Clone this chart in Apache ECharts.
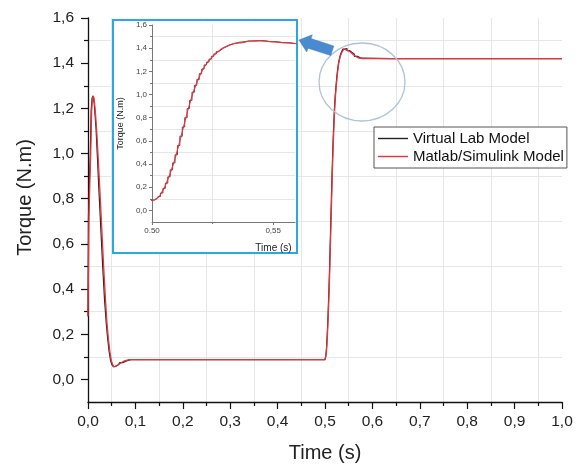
<!DOCTYPE html>
<html><head><meta charset="utf-8">
<script src="https://cdn.jsdelivr.net/npm/echarts@6/dist/echarts.min.js"></script>
<style>html,body{margin:0;padding:0;background:#fff}#c{width:585px;height:464px}</style>
</head><body><div id="c"></div>
<script>
// ---- data ----
const timeS = [0,0.002,0.004,0.0056,0.0077,0.0095,0.011,0.0125,0.014,0.016,0.018,0.021,0.025,0.029,0.033,0.037,0.040,0.043,0.046,0.049,0.052,0.055,0.059,0.064,0.070,0.077,0.085,0.095,0.2,0.3,0.4,0.5,0.501,0.503,0.505,0.507,0.509,0.511,0.513,0.515,0.517,0.519,0.521,0.523,0.526,0.529,0.532,0.536,0.540,0.544,0.549,0.554,0.559,0.565,0.572,0.58,0.7,0.8,0.9,1.0];
const matlabTorque = [0.28,0.72,0.88,0.99,1.19,1.245,1.255,1.245,1.22,1.17,1.11,1.00,0.84,0.67,0.50,0.35,0.25,0.18,0.125,0.085,0.065,0.056,0.058,0.065,0.074,0.082,0.087,0.088,0.088,0.088,0.088,0.088,0.09,0.12,0.19,0.29,0.41,0.56,0.72,0.88,1.02,1.13,1.22,1.28,1.35,1.40,1.43,1.45,1.462,1.465,1.456,1.448,1.44,1.43,1.422,1.42,1.42,1.42,1.42,1.42];

// Virtual Lab model: sampled (staircase) output, 1 ms steps during the 0.5 s transient
const virtualTime = [0,0.002,0.004,0.0056,0.0077,0.0095,0.011,0.0125,0.014,0.016,0.018,0.021,0.025,0.029,0.033,0.037,0.040,0.043,0.046,0.049,0.052,0.055,0.059,0.064,0.070,0.077,0.085,0.095,0.2,0.3,0.4,
  0.500,0.501,0.502,0.503,0.504,0.505,0.506,0.507,0.508,0.509,0.510,0.511,0.512,0.513,0.514,0.515,0.516,0.517,0.518,0.519,0.520,0.521,0.522,0.523,0.524,0.525,0.526,0.527,0.528,0.529,0.530,0.531,0.532,0.533,0.534,0.535,
  0.540,0.544,0.549,0.554,0.559,0.565,0.572,0.58,0.7,0.8,0.9,1.0];
const virtualLabTorque = [0.28,0.72,0.88,0.99,1.19,1.245,1.255,1.245,1.22,1.17,1.11,1.00,0.84,0.67,0.50,0.35,0.25,0.18,0.125,0.085,0.065,0.056,0.058,0.065,0.074,0.082,0.087,0.088,0.088,0.088,0.088,
  0.088,0.09,0.10,0.12,0.15,0.19,0.235,0.29,0.35,0.41,0.48,0.56,0.64,0.72,0.80,0.88,0.95,1.02,1.08,1.13,1.18,1.22,1.255,1.28,1.305,1.33,1.35,1.37,1.385,1.40,1.41,1.42,1.43,1.437,1.443,1.447,
  1.462,1.465,1.456,1.448,1.44,1.43,1.422,1.42,1.42,1.42,1.42,1.42];

const yMajorTicks = [0,0.2,0.4,0.6,0.8,1.0,1.2,1.4,1.6];
const yMinorTicks = [0.1,0.3,0.5,0.7,0.9,1.1,1.3,1.5];
const insetXTicks = [0.50,0.55];
const insetXLabels = ['0.50','0,55'];
const insetXMinorTicks = [0.525];

const seriesNames = ['Virtual Lab Model','Matlab/Simulink Model'];

// ---- build ----
const pairs = (ts, vs) => ts.map((t,i)=>[t, vs[i]]);
const comma1 = v => v.toFixed(1).replace('.', ',');
const FONT = 'Liberation Sans, Arial, sans-serif';
const RED = '#e8323c';
const BLACK = '#222';

const chart = echarts.init(document.getElementById('c'), null, {renderer:'canvas'});

const option = {
  animation: false,
  backgroundColor: '#fff',
  textStyle: {fontFamily: FONT},
  grid: [
    {left: 88, top: 18, width: 474, height: 384, containLabel:false, outerBoundsMode:'none'},
    {left: 152, top: 25, width: 143, height: 197, z: 6, containLabel:false, outerBoundsMode:'none'}
  ],
  xAxis: [
    { type:'value', gridIndex:0, min:0, max:1, interval:0.1, position:'bottom',
      axisLine:{show:true, onZero:false, lineStyle:{color:'#111', width:1.3}},
      axisTick:{show:true, length:7, lineStyle:{color:'#111', width:1.2}},
      minorTick:{show:true, splitNumber:2, length:4, lineStyle:{color:'#111', width:1.2}},
      axisLabel:{formatter: comma1, fontSize:15.5, color:'#222', margin:12, fontFamily:FONT},
      splitLine:{show:false},
      minorSplitLine:{show:true, lineStyle:{color:'#e6e6e6', width:1}},
      name:'Time (s)', nameLocation:'middle', nameGap:41,
      nameTextStyle:{fontSize:20, color:'#222', fontFamily:FONT}
    },
    { type:'value', gridIndex:1, min:0.5, max:0.559, interval:0.05, z:6, position:'bottom',
      axisLine:{show:true, onZero:false, lineStyle:{color:'#777', width:1}},
      axisTick:{show:true, length:3, customValues: insetXTicks, lineStyle:{color:'#777'}},
      axisLabel:{customValues: insetXTicks, fontSize:8, color:'#444', margin:5, fontFamily:FONT,
        formatter: v => { const i = insetXTicks.findIndex(t => Math.abs(t-v) < 1e-6); return i>=0 ? insetXLabels[i] : ''; }},
      splitLine:{show:false},
      name:'Time (s)', nameLocation:'middle', nameGap:21,
      nameTextStyle:{fontSize:10, color:'#222', fontFamily:FONT, padding:[0,0,0,100]}
    },
    { type:'value', gridIndex:1, min:0.5, max:0.559, interval:0.05, z:6, position:'bottom',
      axisLine:{show:false, onZero:false},
      axisTick:{show:true, length:2, customValues: insetXMinorTicks, lineStyle:{color:'#777'}},
      axisLabel:{show:false},
      splitLine:{show:true, lineStyle:{color:'#e6e6e6', width:1}}
    }
  ],
  yAxis: [
    { type:'value', gridIndex:0, min:-0.1, max:1.6, interval:0.1, position:'left',
      axisLine:{show:true, onZero:false, lineStyle:{color:'#111', width:1.3}},
      axisTick:{show:true, length:7, customValues: yMajorTicks, lineStyle:{color:'#111', width:1.2}},
      axisLabel:{customValues: yMajorTicks, formatter: comma1, fontSize:15.5, color:'#222', margin:14, fontFamily:FONT},
      splitLine:{show:false},
      name:'Torque (N.m)', nameLocation:'middle', nameGap:53,
      nameTextStyle:{fontSize:20, color:'#222', fontFamily:FONT, padding:[0,0,0,25]}
    },
    { type:'value', gridIndex:0, min:-0.1, max:1.6, interval:0.1, position:'left',
      axisLine:{show:false, onZero:false},
      axisTick:{show:true, length:4, customValues: yMinorTicks, lineStyle:{color:'#111', width:1.2}},
      axisLabel:{show:false},
      splitLine:{show:true, lineStyle:{color:'#e6e6e6', width:1}}
    },
    { type:'value', gridIndex:1, min:-0.1, max:1.6, interval:0.1, position:'left', z:6,
      axisLine:{show:true, onZero:false, lineStyle:{color:'#777', width:1}},
      axisTick:{show:true, length:3, customValues: yMajorTicks, lineStyle:{color:'#777'}},
      axisLabel:{customValues: yMajorTicks, formatter: comma1, fontSize:8, color:'#444', margin:5, fontFamily:FONT},
      splitLine:{show:false},
      name:'Torque (N.m)', nameLocation:'middle', nameGap:27,
      nameTextStyle:{fontSize:9, color:'#222', fontFamily:FONT}
    },
    { type:'value', gridIndex:1, min:-0.1, max:1.6, interval:0.1, position:'left', z:6,
      axisLine:{show:false, onZero:false},
      axisTick:{show:true, length:2, customValues: yMinorTicks, lineStyle:{color:'#777'}},
      axisLabel:{show:false},
      splitLine:{show:true, lineStyle:{color:'#e6e6e6', width:1}}
    }
  ],
  legend: {
    orient:'vertical', left:374, top:127, z:9,
    data: seriesNames.map(n => ({name:n, icon:'rect'})),
    itemWidth:30, itemHeight:1.4, itemGap:3,
    padding:[4,3,4,4],
    backgroundColor:'#fff', borderColor:'#555', borderWidth:1,
    textStyle:{fontSize:15, color:'#111', fontFamily:FONT}
  },
  graphic: [
    { type:'rect', z:5, shape:{x:113, y:20, width:184, height:233},
      style:{fill:'#fff', stroke:'#2aa8e0', lineWidth:2} },
    { type:'ellipse', z:8, shape:{cx:362, cy:82, rx:43, ry:39},
      style:{fill:'none', stroke:'#aec3d9', lineWidth:1.3} },
    { type:'polygon', z:8, shape:{points:[[299,40],[312.3,34.8],[311.0,38.6],[333.8,46.0],[330.8,55.6],[308.0,48.2],[306.7,52.0]]},
      style:{fill:'#4a8bd0', stroke:'#3f7fc4', lineWidth:0.5} }
  ],
  series: [
    { name: seriesNames[0], type:'line', xAxisIndex:0, yAxisIndex:0, z:2,
      data: pairs(virtualTime, virtualLabTorque), showSymbol:false, symbol:'none',
      step:'middle', lineStyle:{color:BLACK, width:1.2}, itemStyle:{color:BLACK} },
    { name: seriesNames[1], type:'line', xAxisIndex:0, yAxisIndex:0, z:3,
      data: pairs(timeS, matlabTorque), showSymbol:false, symbol:'none',
      lineStyle:{color:RED, width:1.3}, itemStyle:{color:RED} },
    { name: seriesNames[0], type:'line', xAxisIndex:1, yAxisIndex:2, z:7,
      data: pairs(virtualTime, virtualLabTorque), showSymbol:false, symbol:'none',
      step:'middle', lineStyle:{color:'#5a2a2a', width:0.9}, itemStyle:{color:BLACK} },
    { name: seriesNames[1], type:'line', xAxisIndex:1, yAxisIndex:2, z:7,
      data: pairs(timeS, matlabTorque), showSymbol:false, symbol:'none',
      lineStyle:{color:RED, width:1.1}, itemStyle:{color:RED} }
  ]
};
chart.setOption(option);
</script>
</body></html>
